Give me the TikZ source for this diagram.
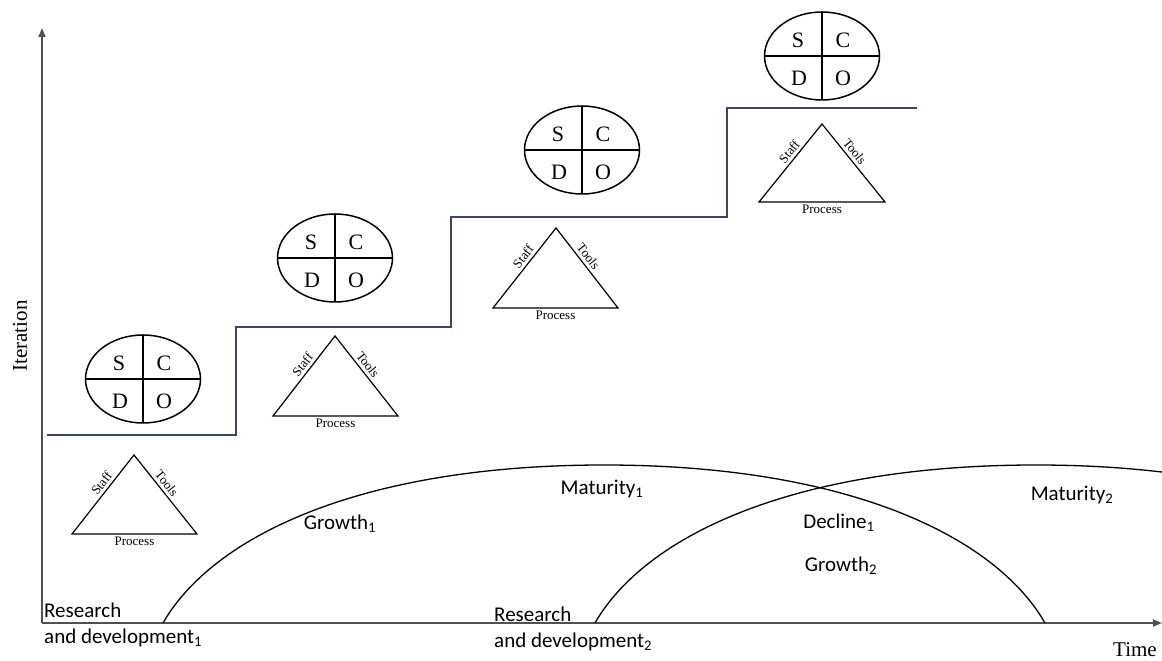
\documentclass[tikz,border=0pt]{standalone}
\usepackage{fontspec}
\setmainfont{Liberation Serif}
\newfontfamily\calibrifont{Carlito}
\usetikzlibrary{arrows.meta,shapes.geometric,calc}
\definecolor{stepblue}{RGB}{58,70,100}
\definecolor{axisgray}{RGB}{80,80,80}

\begin{document}
\begin{tikzpicture}[x=10pt,y=10pt,
  axis/.style={line width=1.5pt,axisgray,-{Triangle[length=9pt,width=7pt]}},
  stepline/.style={line width=1.3pt,stepblue},
  scdo/.style={ellipse,draw,line width=1.5pt,minimum width=115pt,minimum height=88pt,inner sep=0pt,outer sep=0pt},
  letter/.style={font=\fontsize{22}{24}\selectfont,inner sep=0pt},
  tri/.style={line width=1.2pt,line join=miter},
  sidetext/.style={font=\fontsize{13}{14}\selectfont,inner sep=3pt},
  proc/.style={font=\fontsize{13}{14}\selectfont,inner sep=3pt},
  phase/.style={font=\calibrifont\fontsize{21}{26}\selectfont,inner sep=0pt},
  curve/.style={line width=1.3pt}]
  \useasboundingbox (0,0) rectangle (116.2,66.1);

  % axes
  \coordinate (origin) at (4.2,3.8);
  \coordinate (ytop) at (4.2,63.3);
  \coordinate (xend) at (116.2,3.8);
  \draw[axis] (origin) -- (ytop);
  \draw[axis] (origin) -- (xend);
  \node[rotate=90,font=\fontsize{21}{24}\selectfont] (iteration) at (2.0,32.5) {Iteration};
  \node[font=\fontsize{21}{24}\selectfont,inner sep=0pt] (time) at (113.5,1.1) {Time};

  % staircase
  \draw[stepline] (4.7,22.6) -- (23.6,22.6) -- (23.6,33.4) -- (45.1,33.4)
    -- (45.1,44.4) -- (72.7,44.4) -- (72.7,55.3) -- (91.7,55.3);

  % step 1
  \node[scdo] (scdo1) at (14.3,28.2) {};
  \draw[line width=1.5pt] (scdo1.north) -- (scdo1.south) (scdo1.west) -- (scdo1.east);
  \node[letter] (s1) at ($(scdo1)+(-2.4,1.6)$) {S};
  \node[letter] (c1) at ($(scdo1)+(2.1,1.6)$) {C};
  \node[letter] (d1) at ($(scdo1)+(-2.3,-2.2)$) {D};
  \node[letter] (o1) at ($(scdo1)+(2.1,-2.2)$) {O};
  \draw[tri] (7.2,12.7) -- node[pos=0.58,above,sloped,sidetext] (staff1) {Staff}
    (13.4,20.6) -- node[pos=0.42,above,sloped,sidetext] (tools1) {Tools}
    (19.7,12.7) -- cycle;
  \node[proc,below] (proc1) at (13.45,12.7) {Process};

  % step 2
  \node[scdo] (scdo2) at (33.5,40.3) {};
  \draw[line width=1.5pt] (scdo2.north) -- (scdo2.south) (scdo2.west) -- (scdo2.east);
  \node[letter] (s2) at ($(scdo2)+(-2.4,1.6)$) {S};
  \node[letter] (c2) at ($(scdo2)+(2.1,1.6)$) {C};
  \node[letter] (d2) at ($(scdo2)+(-2.3,-2.2)$) {D};
  \node[letter] (o2) at ($(scdo2)+(2.1,-2.2)$) {O};
  \draw[tri] (27.3,24.5) -- node[pos=0.58,above,sloped,sidetext] (staff2) {Staff}
    (33.5,32.5) -- node[pos=0.42,above,sloped,sidetext] (tools2) {Tools}
    (39.8,24.5) -- cycle;
  \node[proc,below] (proc2) at (33.55,24.5) {Process};

  % step 3
  \node[scdo] (scdo3) at (58.2,51.1) {};
  \draw[line width=1.5pt] (scdo3.north) -- (scdo3.south) (scdo3.west) -- (scdo3.east);
  \node[letter] (s3) at ($(scdo3)+(-2.4,1.6)$) {S};
  \node[letter] (c3) at ($(scdo3)+(2.1,1.6)$) {C};
  \node[letter] (d3) at ($(scdo3)+(-2.3,-2.2)$) {D};
  \node[letter] (o3) at ($(scdo3)+(2.1,-2.2)$) {O};
  \draw[tri] (49.3,35.3) -- node[pos=0.58,above,sloped,sidetext] (staff3) {Staff}
    (55.6,43.3) -- node[pos=0.42,above,sloped,sidetext] (tools3) {Tools}
    (61.8,35.3) -- cycle;
  \node[proc,below] (proc3) at (55.55,35.3) {Process};

  % step 4
  \node[scdo] (scdo4) at (82.2,60.5) {};
  \draw[line width=1.5pt] (scdo4.north) -- (scdo4.south) (scdo4.west) -- (scdo4.east);
  \node[letter] (s4) at ($(scdo4)+(-2.4,1.6)$) {S};
  \node[letter] (c4) at ($(scdo4)+(2.1,1.6)$) {C};
  \node[letter] (d4) at ($(scdo4)+(-2.3,-2.2)$) {D};
  \node[letter] (o4) at ($(scdo4)+(2.1,-2.2)$) {O};
  \draw[tri] (75.9,45.9) -- node[pos=0.58,above,sloped,sidetext] (staff4) {Staff}
    (82.2,53.7) -- node[pos=0.42,above,sloped,sidetext] (tools4) {Tools}
    (88.5,45.9) -- cycle;
  \node[proc,below] (proc4) at (82.2,45.9) {Process};

  % life cycles
  \begin{scope}
    \clip (0,0) rectangle (116.2,66.1);
    \draw[curve] (16.3,3.8) .. controls (21.3,12.5) and (36.1,19.6) .. (60.4,19.6)
      .. controls (84.7,19.6) and (99.5,12.5) .. (104.5,3.8);
    \draw[curve] (59.5,3.8) .. controls (64.5,12.5) and (79.3,19.6) .. (103.6,19.6)
      .. controls (127.9,19.6) and (142.7,12.5) .. (147.7,3.8);
  \end{scope}

  \node[phase,align=left,anchor=west] (rd1) at (4.4,3.6) {Research\\and development\textsubscript{1}};
  \node[phase,align=left,anchor=west] (rd2) at (49.4,3.25) {Research\\and development\textsubscript{2}};
  \node[phase] (growth1) at (34.0,13.7) {Growth\textsubscript{1}};
  \node[phase] (maturity1) at (60.2,17.2) {Maturity\textsubscript{1}};
  \node[phase] (decline1) at (83.9,13.8) {Decline\textsubscript{1}};
  \node[phase] (growth2) at (84.1,9.5) {Growth\textsubscript{2}};
  \node[phase] (maturity2) at (107.2,16.6) {Maturity\textsubscript{2}};
\end{tikzpicture}
\end{document}
